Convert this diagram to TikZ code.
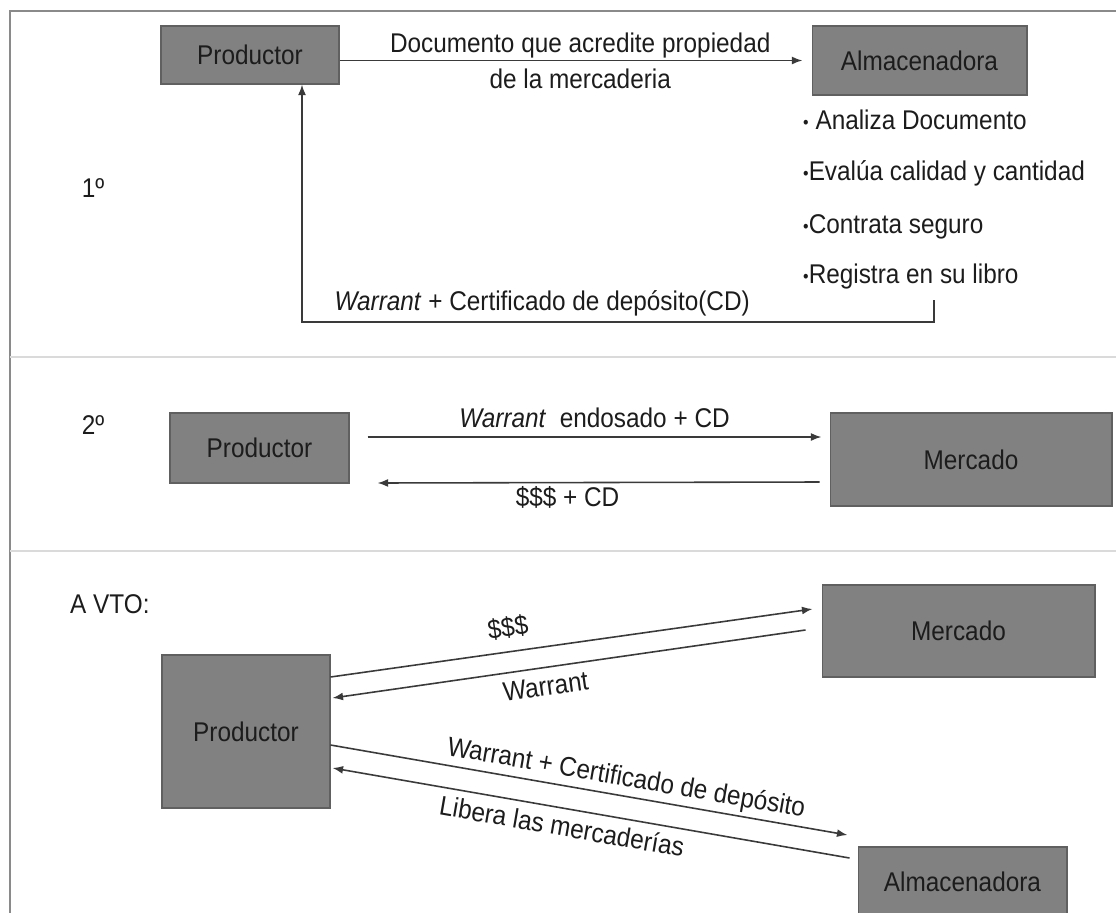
\documentclass[tikz,border=0pt]{standalone}
\usepackage{fontspec}
\setmainfont{Liberation Sans}[FakeStretch=0.9]
\usetikzlibrary{arrows.meta,positioning}
\definecolor{boxgray}{HTML}{818181}
\definecolor{boxedge}{HTML}{606060}
\definecolor{linegray}{HTML}{3A3A3A}
\definecolor{framegray}{HTML}{8A8A8A}
\definecolor{rulegray}{HTML}{DADADA}
\definecolor{txt}{HTML}{1C1C1C}
\newcommand{\dotmark}{{\fontsize{10pt}{10pt}\selectfont\raisebox{0.6pt}{•}}}

\begin{document}
\begin{tikzpicture}[x=0.02cm, y=-0.02cm, >={Latex[length=6pt,width=4.5pt]},
  font=\fontsize{15.4pt}{20.5pt}\selectfont, text=txt,
  box/.style={draw=boxedge, line width=0.6pt, fill=boxgray, inner sep=0pt, align=center},
  flow/.style={->, draw=linegray, line width=0.9pt},
  lbl/.style={inner sep=2pt}]
\useasboundingbox (0,0) rectangle (1116,913);
% frame and section rules
\draw[framegray, line width=1.4pt] (10,913) -- (10,11) -- (1116,11);
\draw[rulegray, line width=1.6pt] (10,357) -- (1116,357);
\draw[rulegray, line width=1.6pt] (10,551) -- (1116,551);

% 1
\node (stepA) at (93,188) {1º};
\node[box, minimum width=3.56cm, minimum height=1.16cm] (prodA) at (250,55) {Productor};
\node[box, minimum width=4.3cm, minimum height=1.38cm] (almA) at (919.5,60.5) {Almacenadora};
\draw[flow, shorten >=0.18cm] (prodA.east |- almA.west) -- node[pos=0.51, align=center] {Documento que acredite propiedad\\de la mercaderia} (almA.west);
\node[anchor=west] (chkA) at (797,120) {\dotmark\ Analiza Documento};
\node[anchor=west] (chkB) at (797,173) {\dotmark Evalúa calidad y cantidad};
\node[anchor=west] (chkC) at (797,227) {\dotmark Contrata seguro};
\node[anchor=west] (chkD) at (797,277) {\dotmark Registra en su libro};
\coordinate (retA) at (934,300);
\coordinate (retB) at (302,322);
\draw[flow] (retA) |- node[lbl, pos=0.81, above=1pt] {\textit{Warrant} + Certificado de depósito(CD)} (retB) -- (retB |- prodA.south);

% 2
\node (stepB) at (93,425) {2º};
\node[box, minimum width=3.58cm, minimum height=1.4cm] (prodB) at (259.5,448) {Productor};
\node[box, minimum width=5.64cm, minimum height=1.86cm] (mercB) at (971,459.5) {Mercado};
\draw[flow] ([shift={(18,-11)}]prodB.east) -- node[lbl, above=3pt] {\textit{Warrant}\ \ endosado + CD} ([shift={(-8,-22.5)}]mercB.west);
\draw[flow] ([shift={(-10,22.5)}]mercB.west) -- node[lbl, below, pos=0.57] {\$\$\$ + CD} ([shift={(28,35)}]prodB.east);

% A VTO
\node[anchor=west] (stepC) at (64,604) {A VTO:};
\node[box, minimum width=3.36cm, minimum height=3.06cm] (prodC) at (246,731.5) {Productor};
\node[box, minimum width=5.46cm, minimum height=1.84cm] (mercC) at (958.5,631) {Mercado};
\node[box, minimum width=4.18cm, minimum height=1.4cm] (almC) at (962.5,882) {Almacenadora};
\draw[flow] ([shift={(0,-54.5)}]prodC.east) -- node[lbl, above=5pt, sloped, pos=0.375] {\$\$\$} ([shift={(-9,-22)}]mercC.west);
\draw[flow] ([shift={(-16,-1)}]mercC.west) -- node[lbl, below=3pt, sloped, pos=0.555] {Warrant} ([shift={(2,-33.5)}]prodC.east);
\draw[flow] ([shift={(0,13.5)}]prodC.east) -- node[lbl, above, sloped, pos=0.566] {Warrant + Certificado de depósito} ([shift={(-10,-47)}]almC.west);
\draw[flow] ([shift={(-8,-24)}]almC.west) -- node[lbl, below=2pt, sloped, pos=0.55] {Libera las mercaderías} ([shift={(2,36.5)}]prodC.east);
\end{tikzpicture}
\end{document}
